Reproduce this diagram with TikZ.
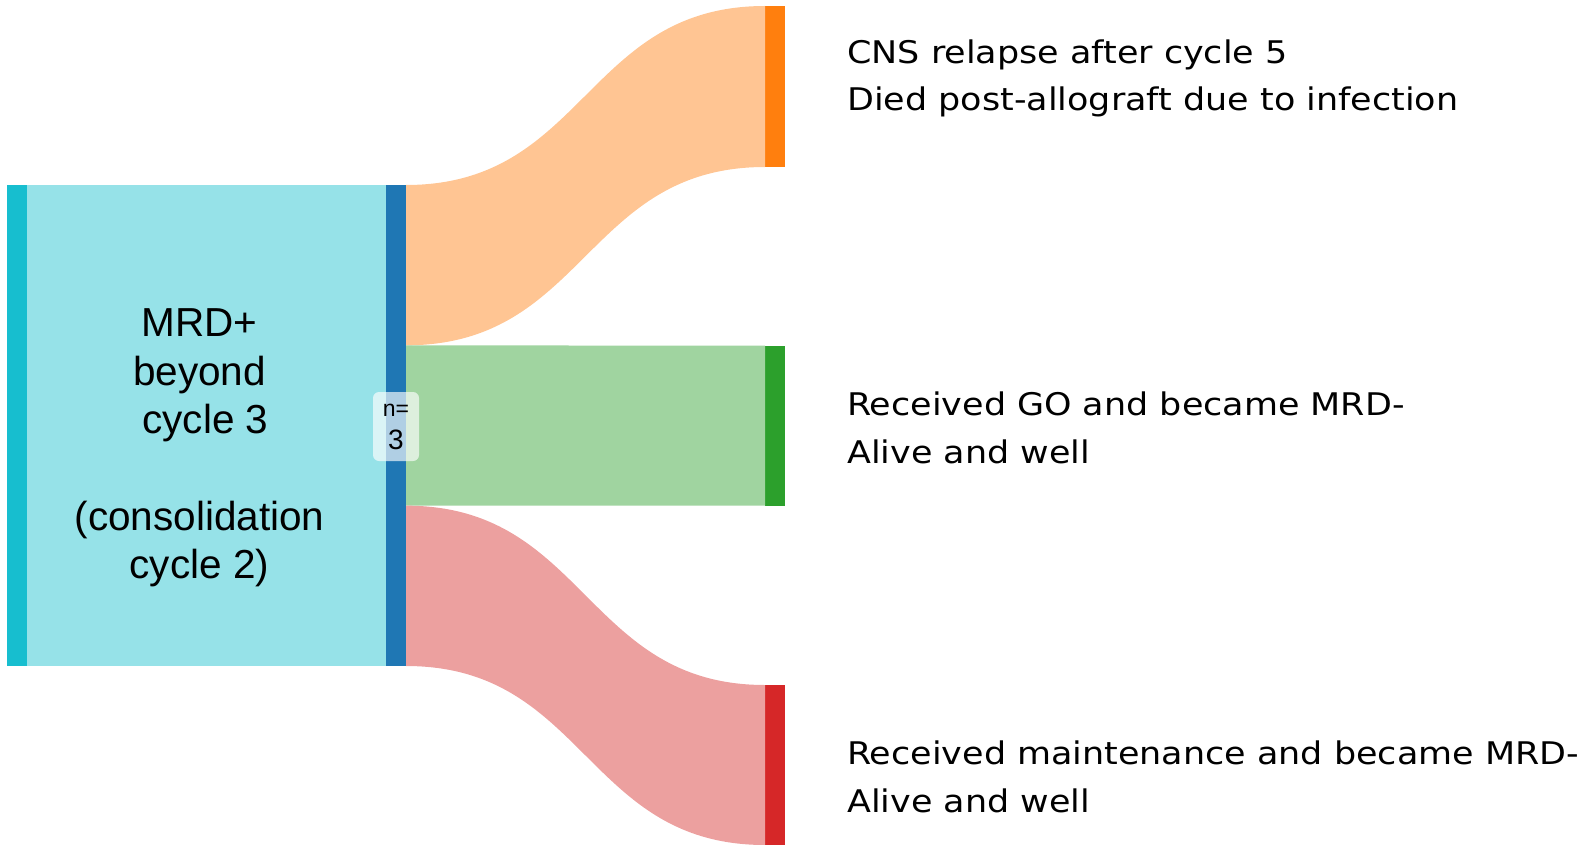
\documentclass[tikz,border=0pt]{standalone}
\usepackage{fontspec}
\setmainfont{Liberation Sans}
\newfontfamily\rfont[FakeStretch=1.12]{DejaVu Sans}
\usetikzlibrary{calc}
\definecolor{cyanD}{HTML}{17BECF}
\definecolor{cyanL}{HTML}{96E2E8}
\definecolor{blueD}{HTML}{1F77B4}
\definecolor{orangeD}{HTML}{FF7F0E}
\definecolor{orangeL}{HTML}{FFC593}
\definecolor{greenD}{HTML}{2CA02C}
\definecolor{greenL}{HTML}{A0D4A0}
\definecolor{redD}{HTML}{D62728}
\definecolor{redL}{HTML}{ECA09F}
\begin{document}
\begin{tikzpicture}[x=1pt,y=-1pt,
  bar/.style={rectangle, inner sep=0pt, outer sep=0pt, minimum width=20pt},
  lbl/.style={inner sep=0pt, anchor=base, font=\fontsize{40.5}{48}\selectfont},
  rlbl/.style={inner sep=0pt, anchor=base west, font=\rfont\fontsize{31.2}{48}\selectfont},
  flow/.style={draw=none}]
\useasboundingbox (0,0) rectangle (1584,845);
% bars and box
\node[bar, fill=cyanD, minimum height=481pt] (srcL) at (17,425.5) {};
\node[rectangle, inner sep=0pt, outer sep=0pt, fill=cyanL, minimum width=359pt, minimum height=481pt] (box) at (206.5,425.5) {};
\node[bar, fill=blueD, minimum height=481pt] (src) at (396,425.5) {};
\node[bar, fill=orangeD, minimum height=161pt] (tA) at (775,86.5) {};
\node[bar, fill=greenD, minimum height=160pt] (tB) at (775,425.7) {};
\node[bar, fill=redD, minimum height=160pt] (tC) at (775,765) {};
% split points on source
\coordinate (s0) at (src.north east);
\coordinate (s1) at ($(src.north east)!1/3!(src.south east)$);
\coordinate (s2) at ($(src.north east)!2/3!(src.south east)$);
\coordinate (s3) at (src.south east);
% flows
\fill[flow, orangeL] (s0) .. controls +(179.5,0) and +(-179.5,0) .. (tA.north west)
  -- (tA.south west) .. controls +(-179.5,0) and +(179.5,0) .. (s1) -- cycle;
\fill[flow, greenL] (s1) .. controls +(179.5,0) and +(-179.5,0) .. (tB.north west)
  -- (tB.south west) .. controls +(-179.5,0) and +(179.5,0) .. (s2) -- cycle;
\fill[flow, redL] (s2) .. controls +(179.5,0) and +(-179.5,0) .. (tC.north west)
  -- (tC.south west) .. controls +(-179.5,0) and +(179.5,0) .. (s3) -- cycle;
% left labels
\node[lbl] (l1) at (199.5,336.7) {MRD+};
\node[lbl] (l2) at (199.5,385) {beyond};
\node[lbl] (l3) at (205.5,433) {cycle 3};
\node[lbl] (l4) at (199.5,530) {(consolidation};
\node[lbl] (l5) at (199.5,578) {cycle 2)};
% n= label
\node[rectangle, rounded corners=6pt, fill=white, fill opacity=0.65, inner sep=0pt,
  minimum width=46pt, minimum height=69pt] (nbox) at (396,426.5) {};
\node[inner sep=0pt, anchor=base, font=\fontsize{23}{24}\selectfont] (n1) at (396,416.5) {n=};
\node[inner sep=0pt, anchor=base, font=\fontsize{28}{30}\selectfont] (n2) at (396,449) {3};
% right labels
\node[rlbl] (a1) at (847,63.3) {CNS relapse after cycle 5};
\node[rlbl] (a2) at (847,111) {Died post-allograft due to infection};
\node[rlbl] (b1) at (847,415) {Received GO and became MRD-};
\node[rlbl] (b2) at (847,463.3) {Alive and well};
\node[rlbl] (c1) at (847,764) {Received maintenance and became MRD-};
\node[rlbl] (c2) at (847,812) {Alive and well};
\end{tikzpicture}
\end{document}
